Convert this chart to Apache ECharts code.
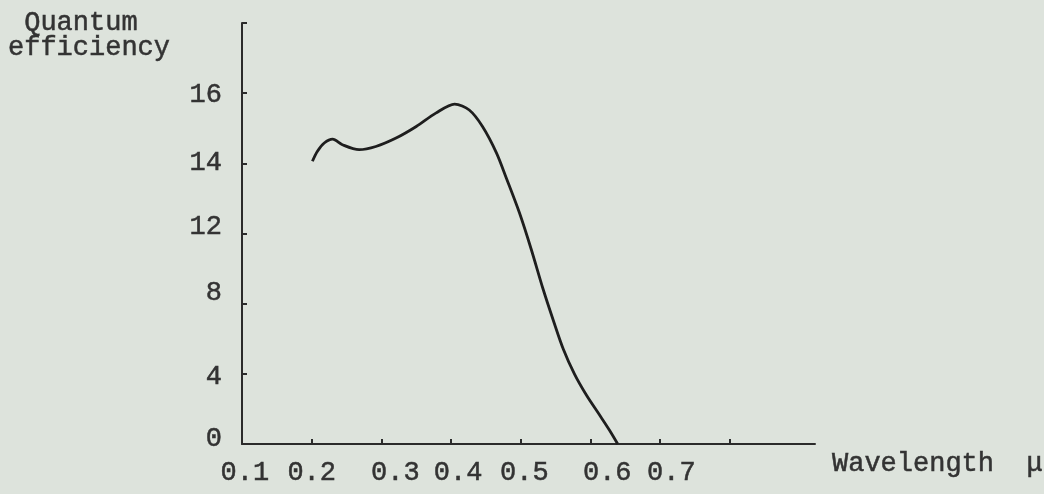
<!DOCTYPE html>
<html>
<head>
<meta charset="utf-8">
<title>Quantum efficiency</title>
<script src="https://cdn.jsdelivr.net/npm/echarts@6.0.0/dist/echarts.min.js"></script>
<style>
  html, body { margin: 0; padding: 0; background: #dde3dc; }
  #chart { width: 1044px; height: 494px; }
</style>
</head>
<body>
<div id="chart"></div>
<script>
// curve: wavelength in micron, quantum efficiency
const wavelength = [0.201, 0.208, 0.218, 0.230, 0.244, 0.268, 0.292, 0.321, 0.350, 0.378, 0.405, 0.426,
  0.445, 0.465, 0.479, 0.498, 0.515, 0.532, 0.547, 0.561, 0.577, 0.594, 0.613, 0.627, 0.639];
const efficiency = [14.06, 14.34, 14.58, 14.69, 14.53, 14.39, 14.48, 14.72, 15.05, 15.43, 15.69, 15.52,
  15.05, 14.30, 13.59, 12.59, 11.09, 8.82, 7.00, 5.40, 3.98, 2.79, 1.65, 0.80, 0];

// the y scale is broken: evenly spaced ticks carry these values
const yTickValues = [0, 4, 8, 12, 14, 16];
const xTickValues = [0.2, 0.3, 0.4, 0.5, 0.6, 0.7, 0.8];
const xTickLabels = ['0.1', '0.2', '0.3', '0.4', '0.5', '0.6', '0.7'];

// typed labels sit a little off their ticks (layout only)
const xLabelAt = [0.104, 0.2, 0.32, 0.41, 0.505, 0.624, 0.716];
const yLabelAt = [0.07, 0.95, 2.16, 3.09, 4.01, 4.98];

// efficiency -> position on the evenly spaced y ticks
function toAxis(q) {
  const v = yTickValues;
  for (let i = 0; i < v.length - 1; i++) {
    if (q <= v[i + 1]) return i + (q - v[i]) / (v[i + 1] - v[i]);
  }
  const n = v.length - 1;
  return n + (q - v[n]) / (v[n] - v[n - 1]);
}

function nearest(arr, x) {
  let best = 0;
  arr.forEach((a, i) => { if (Math.abs(a - x) < Math.abs(arr[best] - x)) best = i; });
  return best;
}

const ink = '#2b2b2b';
const textInk = '#333';
const font = 'Liberation Mono';
const typed = {
  fontFamily: font,
  fontSize: 27,
  fontWeight: 'normal',
  color: textInk,
  textBorderColor: textInk,
  textBorderWidth: 0.5,
};

const chart = echarts.init(document.getElementById('chart'));
chart.setOption({
  backgroundColor: '#dde3dc',
  animation: false,
  title: [
    {
      text: ' Quantum\nefficiency',
      left: 8,
      top: 10,
      padding: 0,
      textStyle: Object.assign({}, typed, { lineHeight: 25 }),
    },
    {
      text: 'Wavelength  μ',
      left: 832,
      top: 450,
      padding: 0,
      textStyle: typed,
    },
  ],
  grid: { left: 242, right: 229, top: 23, bottom: 50 },
  xAxis: {
    type: 'value',
    min: 0.1,
    max: 0.922,
    interval: 0.1,
    splitLine: { show: false },
    axisLine: { lineStyle: { color: ink, width: 2 } },
    axisTick: { inside: true, length: 5, lineStyle: { color: ink, width: 2 }, customValues: xTickValues },
    axisLabel: Object.assign({}, typed, {
      customValues: xLabelAt,
      margin: 15,
      formatter: v => xTickLabels[nearest(xLabelAt, v)],
    }),
  },
  yAxis: {
    type: 'value',
    min: 0,
    max: 6,
    interval: 1,
    splitLine: { show: false },
    axisLine: { show: true, lineStyle: { color: ink, width: 2 } },
    axisTick: { show: true, inside: true, length: 5, lineStyle: { color: ink, width: 2 }, customValues: [1, 2, 3, 4, 5, 6] },
    axisLabel: Object.assign({}, typed, {
      customValues: yLabelAt,
      margin: 20,
      formatter: v => String(yTickValues[nearest(yLabelAt, v)]),
    }),
  },
  series: [
    {
      type: 'line',
      data: wavelength.map((w, i) => [w, toAxis(efficiency[i])]),
      smooth: 0.3,
      showSymbol: false,
      lineStyle: { color: '#1e1e1e', width: 2.8 },
    },
  ],
});
</script>
</body>
</html>
